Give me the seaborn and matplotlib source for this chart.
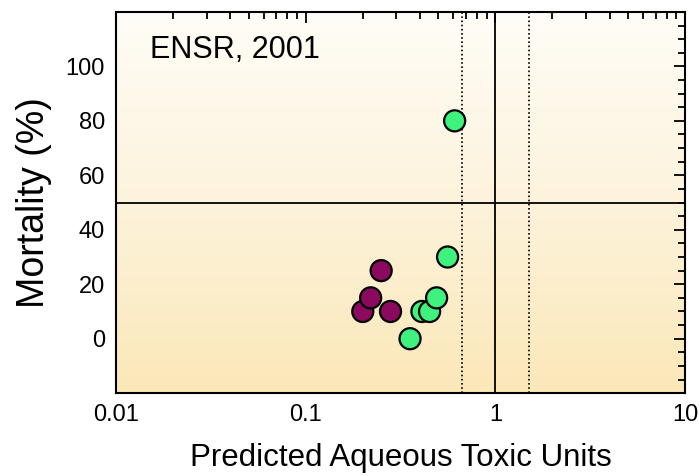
import numpy as np
import pandas as pd
import matplotlib
matplotlib.use("Agg")
import matplotlib.pyplot as plt
import seaborn as sns
from matplotlib.colors import LinearSegmentedColormap
from matplotlib.ticker import LogLocator, MultipleLocator, FixedLocator, FixedFormatter, NullFormatter

# Predicted aqueous toxic units vs. observed mortality
purple_tu = [0.20, 0.22, 0.25, 0.28]
purple_mort = [10, 15, 25, 10]
green_tu = [0.355, 0.41, 0.45, 0.49, 0.56, 0.61]
green_mort = [0, 10, 10, 15, 30, 80]

x_ticks = [0.01, 0.1, 1, 10]
x_tick_labels = ["0.01", "0.1", "1", "10"]
y_ticks = [0, 20, 40, 60, 80, 100]

df = pd.DataFrame({
    "tu": purple_tu + green_tu,
    "mortality": purple_mort + green_mort,
    "group": ["a"] * len(purple_tu) + ["b"] * len(green_tu),
})

sns.set_theme(style="white")
plt.rcParams["font.family"] = ["Liberation Sans", "DejaVu Sans"]
plt.rcParams["text.color"] = "black"
plt.rcParams["axes.labelcolor"] = "black"

fig = plt.figure(figsize=(6.99, 4.76), dpi=100)
ax = fig.add_axes([0.166, 0.174, 0.814, 0.801])

# vertical background gradient: pale cream at top to tan at bottom
cmap = LinearSegmentedColormap.from_list("bg", ["#fffdf7", "#fdf3dc", "#fbe8b8"])
grad = np.linspace(0, 1, 256).reshape(-1, 1)
ax.imshow(grad, cmap=cmap, aspect="auto", extent=[0, 1, 0, 1],
          origin="upper", transform=ax.transAxes, zorder=0)

sns.scatterplot(data=df, x="tu", y="mortality", hue="group",
                palette={"a": "#8b0a5f", "b": "#3ff27d"},
                s=230, edgecolor="black", linewidth=1.6, legend=False,
                ax=ax, zorder=3)

ax.set_xscale("log")
ax.set_xlim(0.01, 10)
ax.set_ylim(-20, 120)

ax.axhline(50, color="black", lw=1.3, zorder=2)
ax.axvline(1, color="black", lw=1.3, zorder=2)
ax.axvline(0.67, color="black", lw=1.2, ls=(0, (1, 1.5)), zorder=2)
ax.axvline(1.5, color="black", lw=1.2, ls=(0, (1, 1.5)), zorder=2)

ax.xaxis.set_major_locator(FixedLocator(x_ticks))
ax.xaxis.set_major_formatter(FixedFormatter(x_tick_labels))
ax.xaxis.set_minor_locator(LogLocator(base=10, subs=np.arange(2, 10)))
ax.xaxis.set_minor_formatter(NullFormatter())
ax.yaxis.set_major_locator(FixedLocator(y_ticks))
ax.yaxis.set_minor_locator(MultipleLocator(5))

ax.tick_params(which="both", direction="in", top=True, right=True,
               labelsize=17, colors="black", labelcolor="black", width=1.3, pad=8)
ax.tick_params(which="major", length=8)
ax.tick_params(which="minor", length=5)

for sp in ax.spines.values():
    sp.set_color("black")
    sp.set_linewidth(1.5)

ax.set_xlabel("Predicted Aqueous Toxic Units", fontsize=22.5, labelpad=12,
              color="black")
ax.set_ylabel("Mortality (%)", fontsize=27, labelpad=10, color="black")

ax.text(0.06, 0.90, "ENSR, 2001", transform=ax.transAxes,
        fontsize=22, ha="left", va="center", color="black")

fig.savefig("out.png", dpi=100)
